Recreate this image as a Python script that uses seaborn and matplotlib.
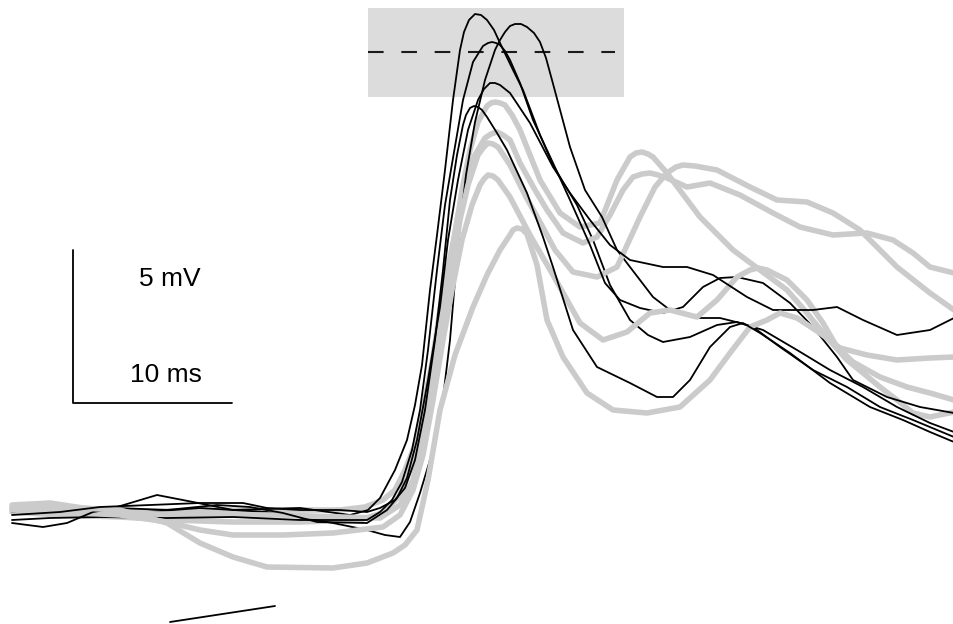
import matplotlib
matplotlib.use("Agg")
import matplotlib.pyplot as plt
import seaborn as sns

# traces (horizontal position, vertical position; screen units, y grows downward)
t_b1 = [12, 40, 67, 117, 157, 193, 233, 300, 350, 368, 380, 395, 407, 415, 422, 430, 437, 445, 453, 460,
        464, 469, 475, 481, 487, 494, 500, 513, 523, 540, 553, 563, 577, 593, 610, 630, 648, 663, 690, 717,
        737, 753, 780, 813, 847, 880, 913, 954]
v_b1 = [512, 511, 510, 507, 495, 502, 510, 508, 515, 510, 498, 470, 440, 405, 365, 290, 235, 170, 100, 50,
        32, 20, 14, 15, 20, 30, 43, 70, 90, 135, 165, 182, 205, 240, 285, 320, 335, 342, 337, 325,
        322, 327, 347, 370, 387, 407, 420, 437]

t_b2 = [12, 83, 133, 200, 267, 333, 367, 385, 400, 410, 420, 430, 437, 444, 450, 458, 466, 475, 485, 495,
        500, 505, 510, 515, 521, 527, 534, 540, 546, 552, 570, 585, 602, 617, 630, 653, 670, 697, 720, 740,
        763, 797, 830, 863, 897, 930, 954]
v_b2 = [512, 513, 513, 508, 512, 523, 530, 535, 537, 522, 493, 460, 430, 390, 340, 245, 175, 122, 80, 50,
        40, 32, 26, 24, 24, 27, 33, 42, 58, 80, 147, 190, 217, 250, 267, 297, 310, 318, 318, 323,
        330, 350, 370, 387, 407, 423, 432]

t_b3 = [12, 50, 100, 167, 233, 300, 367, 380, 392, 402, 412, 420, 428, 437, 445, 453, 463, 473, 483, 488,
        492, 496, 500, 505, 510, 520, 533, 553, 570, 590, 605, 620, 640, 663, 683, 703, 720, 737, 763, 790,
        813, 837, 853, 887, 920, 954]
v_b3 = [520, 518, 517, 518, 517, 520, 520, 512, 500, 482, 450, 410, 350, 270, 205, 158, 100, 62, 46, 43,
        42, 43, 45, 51, 60, 83, 120, 163, 200, 245, 283, 300, 308, 313, 307, 287, 278, 277, 283, 303,
        327, 357, 380, 397, 407, 413]

t_b4 = [12, 43, 67, 93, 117, 167, 217, 250, 283, 317, 367, 387, 397, 407, 417, 428, 440, 448, 458, 468,
        478, 484, 490, 495, 500, 510, 520, 530, 553, 570, 590, 610, 630, 663, 687, 713, 747, 773, 813, 837,
        863, 897, 930, 954]
v_b4 = [523, 527, 523, 512, 508, 510, 505, 507, 513, 522, 523, 510, 498, 478, 440, 380, 307, 240, 180, 130,
        100, 89, 83, 83, 85, 93, 108, 123, 167, 193, 220, 245, 260, 267, 267, 275, 297, 310, 310, 307,
        320, 335, 330, 318]

t_b5 = [12, 60, 100, 150, 200, 243, 267, 300, 340, 367, 380, 395, 405, 415, 425, 435, 443, 450, 457, 463,
        466, 470, 474, 478, 482, 487, 497, 507, 527, 543, 553, 573, 597, 630, 657, 673, 690, 710, 730, 743,
        760, 790, 830, 870, 903, 930, 954]
v_b5 = [515, 512, 507, 505, 503, 503, 508, 510, 510, 512, 508, 500, 488, 460, 410, 340, 270, 200, 155, 125,
        115, 108, 106, 107, 110, 117, 133, 150, 193, 237, 267, 330, 367, 383, 397, 397, 380, 347, 327, 323,
        333, 353, 383, 407, 420, 432, 442]

t_g1 = [12, 50, 83, 117, 170, 233, 300, 340, 365, 383, 395, 405, 417, 425, 433, 440, 447, 455, 462, 470,
        478, 487, 491, 495, 500, 505, 512, 520, 530, 540, 560, 580, 600, 617, 630, 636, 642, 648, 653, 667,
        700, 733, 760, 787, 807, 823, 847, 863, 880, 897, 913, 930, 954]
v_g1 = [505, 503, 508, 512, 511, 510, 510, 510, 507, 500, 490, 470, 440, 400, 357, 310, 273, 235, 190, 150,
        122, 106, 103, 102, 103, 105, 115, 130, 155, 180, 213, 227, 223, 180, 157, 153, 152, 154, 157, 173,
        217, 250, 270, 290, 313, 333, 360, 373, 387, 400, 413, 417, 412]

t_g2 = [12, 60, 120, 170, 233, 300, 360, 385, 400, 410, 420, 430, 440, 450, 458, 466, 475, 485, 491, 497,
        503, 510, 520, 535, 547, 563, 583, 597, 610, 623, 633, 642, 650, 658, 667, 687, 710, 740, 773, 800,
        833, 867, 893, 913, 930, 954]
v_g2 = [512, 515, 517, 520, 522, 522, 520, 512, 495, 470, 430, 380, 320, 260, 215, 180, 155, 138, 134, 132,
        135, 140, 163, 190, 210, 233, 243, 237, 215, 190, 177, 174, 173, 175, 178, 187, 183, 195, 213, 227,
        235, 233, 240, 253, 267, 273]

t_g3 = [12, 60, 120, 200, 280, 340, 380, 400, 413, 423, 433, 443, 452, 460, 468, 478, 483, 488, 493, 498,
        510, 525, 540, 555, 573, 597, 617, 640, 655, 667, 676, 683, 695, 717, 750, 777, 807, 833, 860, 897,
        930, 954]
v_g3 = [508, 510, 513, 515, 515, 517, 518, 505, 480, 440, 390, 330, 270, 220, 185, 155, 148, 143, 144, 147,
        165, 195, 222, 250, 272, 277, 267, 217, 187, 173, 167, 165, 166, 170, 187, 200, 202, 213, 230, 267,
        293, 310]

t_g4 = [12, 60, 120, 167, 200, 233, 283, 333, 383, 400, 413, 423, 433, 443, 452, 462, 472, 480, 484, 488,
        493, 498, 510, 530, 553, 580, 603, 627, 650, 670, 697, 717, 737, 750, 758, 767, 787, 807, 823, 837,
        853, 880, 907, 930, 954]
v_g4 = [510, 512, 515, 522, 530, 535, 535, 533, 527, 515, 490, 455, 400, 340, 290, 240, 205, 185, 179, 175,
        176, 180, 197, 235, 275, 323, 340, 332, 313, 310, 317, 300, 277, 270, 268, 270, 280, 300, 323, 347,
        362, 377, 387, 393, 400]

t_g5 = [12, 60, 120, 167, 200, 233, 267, 333, 367, 393, 405, 417, 428, 440, 455, 473, 487, 500, 510, 513,
        517, 522, 527, 537, 547, 563, 587, 613, 647, 680, 710, 730, 750, 767, 780, 797, 820, 840, 867, 897,
        930, 954]
v_g5 = [508, 507, 510, 523, 543, 557, 567, 568, 563, 553, 545, 530, 480, 410, 355, 307, 275, 250, 235, 230,
        228, 229, 234, 265, 320, 357, 393, 410, 413, 407, 380, 353, 327, 320, 313, 318, 333, 348, 355, 360,
        358, 357]

# annotation elements
window_t = (368, 624)
window_v = (8, 97)
threshold_v = 52
threshold_t = (368, 615)
bar_t = (73, 232)
bar_v = (250, 403)
stim_t = [170, 275]
stim_v = [622, 606]

BLACK = "#000000"
GRAY = "#cbcbcb"

sns.set_style("white")
plt.rcParams["font.family"] = ["Liberation Sans", "DejaVu Sans"]

fig = plt.figure(figsize=(9.54, 6.24), dpi=100)
ax = fig.add_axes([0, 0, 1, 1])

ax.fill_between(window_t, window_v[0], window_v[1], color="#dcdcdc", lw=0, zorder=0)
ax.plot(threshold_t, [threshold_v, threshold_v], color="#1a1a1a", lw=1.5,
        linestyle=(0, (7.5, 8.5)), zorder=1)

grays = [(t_g1, v_g1), (t_g2, v_g2), (t_g3, v_g3), (t_g4, v_g4), (t_g5, v_g5)]
blacks = [(t_b1, v_b1), (t_b2, v_b2), (t_b3, v_b3), (t_b4, v_b4), (t_b5, v_b5)]
for (tg, vg), (tb, vb) in zip(grays, blacks):
    sns.lineplot(x=tg, y=vg, ax=ax, color=GRAY, lw=4.0, sort=False, estimator=None,
                 solid_capstyle="round", solid_joinstyle="round")
    sns.lineplot(x=tb, y=vb, ax=ax, color=BLACK, lw=1.3, sort=False, estimator=None,
                 solid_joinstyle="round")

# scale bar
ax.plot([bar_t[0], bar_t[0], bar_t[1]], [bar_v[0], bar_v[1], bar_v[1]], color=BLACK, lw=1.3)
ax.text(170, 286, "5 mV", ha="center", va="baseline", fontsize=19, color=BLACK)
ax.text(166, 382, "10 ms", ha="center", va="baseline", fontsize=19, color=BLACK)

# stimulus marker
ax.plot(stim_t, stim_v, color=BLACK, lw=1.3)

ax.set_xlim(0, 954)
ax.set_ylim(624, 0)
ax.axis("off")

fig.savefig("out.png", dpi=100)
